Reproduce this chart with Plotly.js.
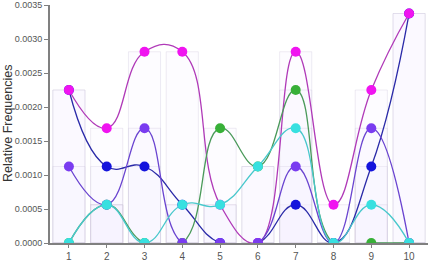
<!DOCTYPE html>
<html>
<head>
<meta charset="utf-8">
<script src="https://cdn.plot.ly/plotly-3.0.1.min.js"></script>
<style>html,body{margin:0;padding:0;background:#fff;}#chart{width:429px;height:263px;}</style>
</head>
<body>
<div id="chart"></div>
<script>
var categories = [1, 2, 3, 4, 5, 6, 7, 8, 9, 10];
var blueValues    = [0.00225, 0.001125, 0.001125, 0.0005625, 0, 0, 0.0005625, 0, 0.001125, 0.003375];
var magentaValues = [0.00225, 0.0016875, 0.0028125, 0.0028125, 0.0005625, 0, 0.0028125, 0.0005625, 0.00225, 0.003375];
var greenValues   = [0, 0.0005625, 0, 0, 0.0016875, 0.001125, 0.00225, 0, 0, 0];
var purpleValues  = [0.001125, 0.0005625, 0.0016875, 0, 0, 0, 0.001125, 0, 0.0016875, 0];
var cyanValues    = [0, 0.0005625, 0, 0.0005625, 0.0005625, 0.001125, 0.0016875, 0, 0.0005625, 0];
var yTickValues = [0, 0.0005, 0.001, 0.0015, 0.002, 0.0025, 0.003, 0.0035];
var yTickText = ['0.0000', '0.0005', '0.0010', '0.0015', '0.0020', '0.0025', '0.0030', '0.0035'];

var series = [
  {y: blueValues,    marker: '#1414dc', line: '#2a2aa8'},
  {y: magentaValues, marker: '#f014f0', line: '#b03ab8'},
  {y: greenValues,   marker: '#38b038', line: '#4a9a5a'},
  {y: purpleValues,  marker: '#7a3cf0', line: '#6a44d0'},
  {y: cyanValues,    marker: '#38e0e0', line: '#48c8cc'}
];

var FONT = "'Liberation Sans', Arial, sans-serif";
var traces = [];
series.forEach(function(s) {
  traces.push({
    type: 'bar', x: categories, y: s.y,
    marker: {color: 'rgba(244,240,255,0.18)', line: {color: 'rgba(205,200,222,0.35)', width: 1}},
    hoverinfo: 'skip', showlegend: false
  });
});
series.forEach(function(s) {
  traces.push({
    type: 'scatter', mode: 'lines+markers', x: categories, y: s.y,
    line: {shape: 'spline', smoothing: 1.3, color: s.line, width: 1.3},
    marker: {size: 10, color: s.marker},
    showlegend: false
  });
});

var plotLeft = 50, plotWidth = 429 - 50 - 1;
var layout = {
  width: 429, height: 263,
  margin: {l: plotLeft, r: 1, t: 5, b: 20},
  paper_bgcolor: '#ffffff', plot_bgcolor: '#ffffff',
  barmode: 'overlay', bargap: 0.15,
  showlegend: false,
  font: {family: FONT, size: 10, color: '#555'},
  xaxis: {
    range: [0.5, 10.5], tickvals: categories, ticktext: categories.map(String),
    showgrid: false, zeroline: false, showline: true, linecolor: '#808080', linewidth: 2,
    ticks: 'outside', ticklen: 3, tickcolor: '#808080', tickfont: {family: FONT, size: 10, color: '#555'}
  },
  yaxis: {
    range: [0, 0.0035001], tickvals: yTickValues, ticktext: yTickText,
    ticklabeloverflow: 'allow',
    showgrid: false, zeroline: false, showline: true, linecolor: '#808080', linewidth: 2,
    ticks: 'outside', ticklen: 4, tickcolor: '#808080', tickfont: {family: FONT, size: 9, color: '#555'}
  },
  annotations: [{
    text: 'Relative Frequencies', textangle: -90, showarrow: false,
    xref: 'paper', yref: 'paper', x: (8 - plotLeft) / plotWidth, y: 0.5,
    xanchor: 'center', yanchor: 'middle', borderpad: 0,
    font: {family: FONT, size: 12.5, color: '#333'}
  }]
};
Plotly.newPlot('chart', traces, layout, {displayModeBar: false, staticPlot: true});
</script>
</body>
</html>
